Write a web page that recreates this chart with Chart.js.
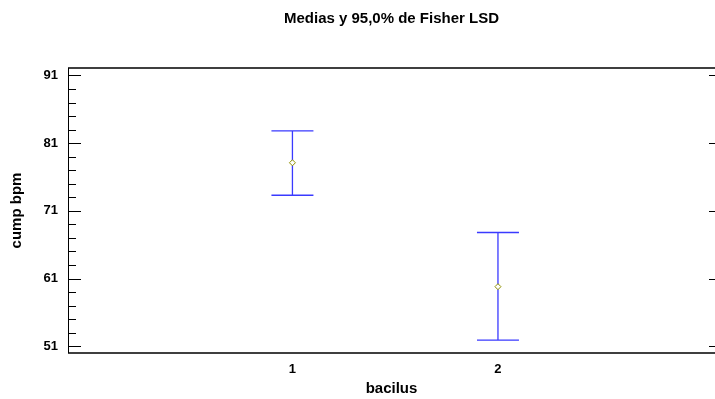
<!DOCTYPE html>
<html>
<head>
<meta charset="utf-8">
<script src="https://cdn.jsdelivr.net/npm/chart.js@4"></script>
<style>
  html, body { margin: 0; padding: 0; background: #fff; }
  #wrap { width: 715px; height: 399px; }
</style>
</head>
<body>
<div id="wrap"><canvas id="chart" width="715" height="399"></canvas></div>
<script>
// data
const categories = [1, 2];
const means = [78.1, 59.8];
const lower = [73.3, 51.9];
const upper = [82.8, 67.8];
const yTicks = [51, 61, 71, 81, 91];
const yMinor = [53, 55, 57, 59, 63, 65, 67, 69, 73, 75, 77, 79, 83, 85, 87, 89];

const fontFamily = "'Liberation Sans', Arial, sans-serif";

// error bars + frame and inside ticks
const lsdPlugin = {
  id: "lsd",
  beforeDatasetsDraw(chart) {
    const ctx = chart.ctx;
    const x = chart.scales.x, y = chart.scales.y;
    ctx.save();
    ctx.strokeStyle = "#3a3aff";
    ctx.lineWidth = 1.3;
    categories.forEach((c, i) => {
      const px = x.getPixelForValue(c);
      const top = y.getPixelForValue(upper[i]);
      const bot = y.getPixelForValue(lower[i]);
      ctx.beginPath();
      ctx.moveTo(px, top); ctx.lineTo(px, bot);
      ctx.moveTo(px - 21, top); ctx.lineTo(px + 21, top);
      ctx.moveTo(px - 21, bot); ctx.lineTo(px + 21, bot);
      ctx.stroke();
    });
    ctx.restore();
  },
  afterDraw(chart) {
    const ctx = chart.ctx;
    const a = chart.chartArea;
    const y = chart.scales.y;
    ctx.save();
    ctx.strokeStyle = "#000";
    ctx.lineWidth = 1.5;
    ctx.beginPath();
    ctx.moveTo(a.left, a.top); ctx.lineTo(a.right, a.top);
    ctx.moveTo(a.left, a.bottom); ctx.lineTo(a.right, a.bottom);
    ctx.stroke();
    ctx.lineWidth = 1;
    ctx.beginPath();
    ctx.moveTo(a.left + 0.5, a.top); ctx.lineTo(a.left + 0.5, a.bottom);
    yTicks.forEach(v => {
      const py = Math.round(y.getPixelForValue(v)) + 0.5;
      ctx.moveTo(a.left, py); ctx.lineTo(a.left + 13, py);
      ctx.moveTo(a.right, py); ctx.lineTo(a.right - 6, py);
    });
    yMinor.forEach(v => {
      const py = Math.round(y.getPixelForValue(v)) + 0.5;
      ctx.moveTo(a.left, py); ctx.lineTo(a.left + 8, py);
    });
    ctx.stroke();
    ctx.restore();
  }
};

new Chart(document.getElementById("chart"), {
  type: "scatter",
  data: {
    datasets: [{
      data: categories.map((c, i) => ({ x: c, y: means[i] })),
      pointStyle: "rectRot",
      radius: 3,
      borderWidth: 1,
      borderColor: "#8f8f00",
      backgroundColor: "#ffffff"
    }]
  },
  options: {
    responsive: false,
    animation: false,
    layout: { padding: 0, autoPadding: false },
    plugins: {
      legend: { display: false },
      tooltip: { enabled: false },
      title: {
        display: true,
        fullSize: false,
        text: "Medias y 95,0% de Fisher LSD",
        color: "#000",
        font: { family: fontFamily, size: 15, weight: "bold" },
        padding: { top: 10, bottom: 40 }
      }
    },
    scales: {
      x: {
        type: "linear",
        min: -0.092,
        max: 3.056,
        afterBuildTicks: s => { s.ticks = categories.map(v => ({ value: v })); },
        afterFit: s => { s.height = 46; },
        grid: { display: false, drawTicks: false },
        border: { display: false },
        ticks: {
          color: "#000",
          padding: 9,
          font: { family: fontFamily, size: 13, weight: "bold" }
        },
        title: {
          display: true,
          text: "bacilus",
          color: "#000",
          font: { family: fontFamily, size: 15, weight: "bold" },
          padding: { top: 0, bottom: 1 }
        }
      },
      y: {
        min: 50,
        max: 92.1,
        afterBuildTicks: s => { s.ticks = yTicks.map(v => ({ value: v })); },
        afterFit: s => { s.width = 68; },
        grid: { display: false, drawTicks: false },
        border: { display: false },
        ticks: {
          color: "#000",
          padding: 10,
          font: { family: fontFamily, size: 13, weight: "bold" }
        },
        title: {
          display: true,
          text: "cump bpm",
          color: "#000",
          font: { family: fontFamily, size: 15, weight: "bold" },
          padding: { top: 7.7, bottom: 0 }
        }
      }
    }
  },
  plugins: [lsdPlugin]
});
</script>
</body>
</html>
